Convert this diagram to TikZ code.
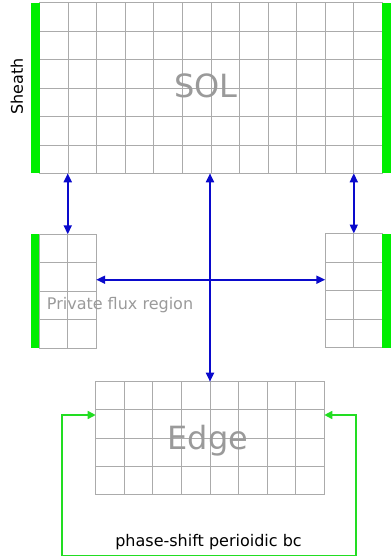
\documentclass[tikz,border=0pt]{standalone}
\usepackage{fontspec}
\setmainfont{DejaVu Sans}
\usetikzlibrary{arrows.meta,calc}
\definecolor{gridgrey}{HTML}{ABABAB}
\definecolor{labelgrey}{HTML}{9A9A9A}
\definecolor{barGreen}{HTML}{00EE00}
\definecolor{loopGreen}{HTML}{22DD22}
\definecolor{flowBlue}{HTML}{0A0ACC}
\tikzset{
  gridbox/.style={draw=gridgrey, line width=0.8pt, inner sep=0pt, outer sep=0pt, anchor=north west},
  gridline/.style={draw=gridgrey, line width=0.8pt},
  greenbar/.style={fill=barGreen, draw=none},
  flow/.style={draw=flowBlue, line width=1.8pt, -{Triangle[length=9pt,width=8pt]}},
  flowboth/.style={draw=flowBlue, line width=1.8pt, {Triangle[length=9pt,width=8pt]}-{Triangle[length=9pt,width=8pt]}},
  bcloop/.style={draw=loopGreen, line width=1.6pt, -{Triangle[length=8pt,width=8pt]}},
  biglabel/.style={text=labelgrey, font=\fontsize{32}{36}\selectfont, inner sep=0pt},
  smalllabel/.style={font=\fontsize{16}{18}\selectfont, inner sep=0pt},
}
\begin{document}
\begin{tikzpicture}[x=1pt,y=-1pt]
\useasboundingbox (0,0) rectangle (391,560);
\def\cw{28.57}
\def\ch{28.45}
% SOL block
\node[gridbox, minimum width=342.8pt, minimum height=170.6pt] (sol) at (39.5,2.7) {};
\foreach \i in {1,...,11} \draw[gridline] (39.5+\i*\cw,2.7) -- (39.5+\i*\cw,173.3);
\foreach \j in {1,...,5} \draw[gridline] (39.5,2.7+\j*\ch) -- (382.3,2.7+\j*\ch);
\fill[greenbar] (31,2.7) rectangle (39.5,173.3);
\fill[greenbar] (382.3,2.7) rectangle (390.5,173.3);
% Private flux block (left)
\node[gridbox, minimum width=56.9pt, minimum height=114pt] (priv) at (39.3,234.3) {};
\draw[gridline] (67.7,234.3) -- (67.7,348.3);
\foreach \j in {1,2,3} \draw[gridline] (39.3,234.3+\j*28.5) -- (96.2,234.3+\j*28.5);
\fill[greenbar] (31,234.3) rectangle (39.3,348.3);
% Right block
\node[gridbox, minimum width=57pt, minimum height=114pt] (rgt) at (325.3,233.5) {};
\draw[gridline] (353.8,233.5) -- (353.8,347.5);
\foreach \j in {1,2,3} \draw[gridline] (325.3,233.5+\j*28.5) -- (382.3,233.5+\j*28.5);
\fill[greenbar] (382.3,233.5) rectangle (390.5,347.5);
% Edge block
\node[gridbox, minimum width=228.6pt, minimum height=112.6pt] (edge) at (95.7,381.7) {};
\foreach \i in {1,...,7} \draw[gridline] (95.7+\i*28.575,381.7) -- (95.7+\i*28.575,494.3);
\foreach \j in {1,2,3} \draw[gridline] (95.7,381.7+\j*28.15) -- (324.3,381.7+\j*28.15);
% labels
\node[biglabel] (soltext) at (206,86) {SOL};
\node[biglabel] (edgetext) at (208,441) {Edge};
\node[smalllabel, rotate=90] (sheath) at (17,86.5) {Sheath};
\node[smalllabel, text=labelgrey] (privtext) at (120,305) {Private flux region};
\node[smalllabel] (bctext) at (208.5,542) {phase-shift perioidic bc};
% blue flows
\draw[flowboth] (priv.north) -- (priv.north |- sol.south);
\draw[flowboth] (rgt.north) -- (rgt.north |- sol.south);
\coordinate (midtop) at (210,173.3);
\coordinate (pe) at (96.2,279.7);
\coordinate (re) at (325.3,279.7);
\draw[flowboth] (pe) -- (re);
\coordinate (edgetop) at (210,381.7);
\draw[flowboth] (midtop) -- (edgetop);
% green periodic loop
\coordinate (lw) at (95.7,415);
\coordinate (rw) at (324.3,415);
\draw[bcloop] (356,555.5) -- (356,415) -- (rw);
\draw[bcloop] (356,555.5) -- (62,555.5) -- (62,415) -- (lw);
\end{tikzpicture}
\end{document}
